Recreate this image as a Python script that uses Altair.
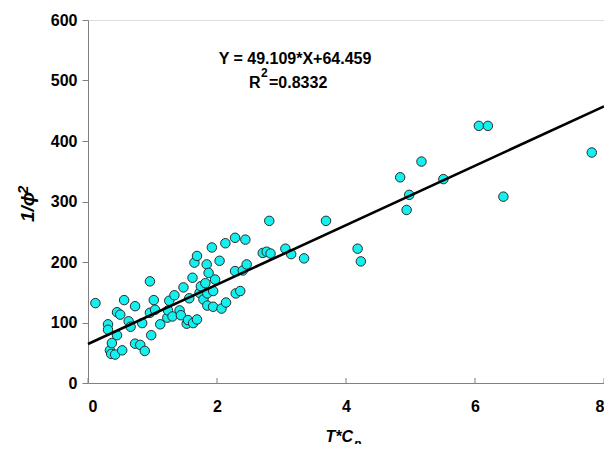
import altair as alt
import pandas as pd

# Data
x_vals = [0.115, 0.31, 0.31, 0.34, 0.37, 0.36, 0.42, 0.45, 0.45, 0.50, 0.53, 0.56,
          0.63, 0.66, 0.73, 0.73, 0.81, 0.84, 0.88, 0.96, 0.96, 0.98, 1.02, 1.04,
          1.12, 1.23, 1.24, 1.26, 1.31, 1.34, 1.42, 1.44, 1.48, 1.53, 1.55, 1.57,
          1.62, 1.63, 1.65, 1.69, 1.69, 1.73, 1.75, 1.79, 1.82, 1.84, 1.85, 1.85,
          1.87, 1.92, 1.94, 1.94, 1.97, 2.04, 2.07, 2.13, 2.14, 2.28, 2.28, 2.29,
          2.36, 2.40, 2.44, 2.46, 2.71, 2.77, 2.81, 2.83, 3.06, 3.15, 3.35, 3.69,
          4.18, 4.23, 4.84, 4.94, 4.98, 5.17, 5.51, 6.06, 6.20, 6.44, 7.81]
y_vals = [132, 97, 88, 54, 66, 48, 47, 79, 117, 113, 54, 137,
          102, 93, 127, 65, 63, 99, 53, 168, 116, 79, 137, 121,
          97, 108, 120, 136, 110, 145, 120, 112, 158, 98, 104, 140,
          174, 99, 199, 210, 105, 149, 160, 138, 165, 196, 128, 148,
          182, 224, 126, 152, 171, 202, 123, 231, 133, 240, 185, 148,
          152, 186, 237, 196, 215, 217, 268, 214, 222, 213, 206, 268,
          222, 201, 340, 286, 311, 366, 337, 425, 425, 308, 381]

slope = 49.109
intercept = 64.459
fit_x = [0, 8]
x_ticks = [0, 2, 4, 6, 8]
y_ticks = [0, 100, 200, 300, 400, 500, 600]

pts = pd.DataFrame({"x": x_vals, "y": y_vals})
fit = pd.DataFrame({"x": fit_x, "y": [slope * v + intercept for v in fit_x]})
ticks = pd.DataFrame({"x": x_ticks})

W, H = 516, 363
FONT = "Liberation Sans"

xscale = alt.Scale(domain=[0, 8], nice=False)
yscale = alt.Scale(domain=[0, 600], nice=False)

xaxis = alt.Axis(values=x_ticks, format="d", ticks=False, labelFontSize=16, labelFontWeight="bold",
                 labelColor="black", labelPadding=15, domainColor="#808080", grid=False,
                 title=None, labelFont=FONT)
yaxis = alt.Axis(values=y_ticks, format="d", tickSize=6, tickColor="#808080",
                 labelFontSize=16, labelFontWeight="bold", labelColor="black", labelPadding=5,
                 domainColor="#808080", grid=False, title=None, labelFont=FONT)

points = alt.Chart(pts).mark_point(
    shape="circle", filled=True, fill="#14F0F0", stroke="#2b2b2b", strokeWidth=1,
    size=90, opacity=1
).encode(x=alt.X("x:Q", scale=xscale, axis=xaxis), y=alt.Y("y:Q", scale=yscale, axis=yaxis))

line = alt.Chart(fit).mark_line(color="black", strokeWidth=2.6).encode(
    x=alt.X("x:Q", scale=xscale), y=alt.Y("y:Q", scale=yscale))

tick_rules = alt.Chart(ticks).mark_rule(color="#808080", strokeWidth=1).encode(
    x=alt.X("x:Q", scale=xscale), y=alt.value(H), y2=alt.value(H - 5))

def txt(s, x, y, size, italic=False, angle=0, align="center", baseline="middle"):
    return alt.Chart(pd.DataFrame({"t": [s]})).mark_text(
        font=FONT, fontSize=size, fontWeight="bold",
        fontStyle="italic" if italic else "normal", color="black",
        angle=angle, align=align, baseline=baseline
    ).encode(text="t:N", x=alt.value(x), y=alt.value(y))

eq = txt("Y = 49.109*X+64.459", 207, 38.5, 16)
r1 = txt("R", 161, 63, 16, align="left")
r2 = txt("2", 173, 53, 12, align="left")
r3 = txt("=0.8332", 181, 63, 16, align="left")

xt1 = txt("T*C", 265, 422, 16, italic=True, align="right", baseline="alphabetic")
xt2 = txt("p", 266, 428, 12, italic=True, align="left", baseline="alphabetic")
yt1 = txt("1/\u03d5", -60, 202, 19, italic=True, angle=270, align="left")
yt2 = txt("2", -65, 174, 15, italic=True, angle=270, align="left")

chart = alt.layer(points, line, tick_rules, eq, r1, r2, r3, xt1, xt2, yt1, yt2).properties(
    width=W, height=H,
    autosize=alt.AutoSizeParams(type="none"),
    padding={"left": 80, "top": 12, "right": 0, "bottom": 61},
).configure_view(stroke="#808080", strokeWidth=1).configure(background="white")

chart.save("out.html", embed_options={"renderer": "svg", "actions": False})
